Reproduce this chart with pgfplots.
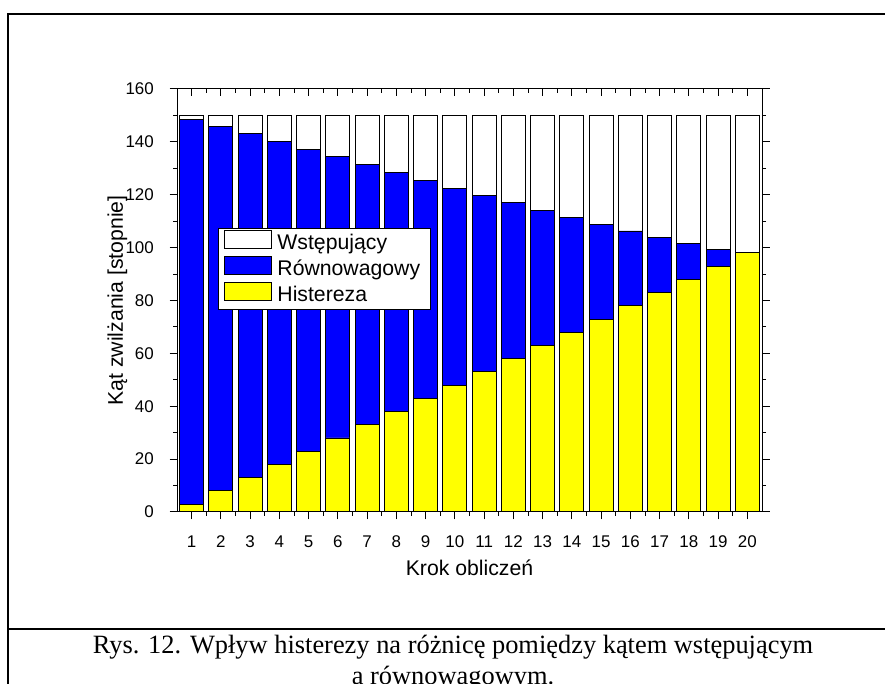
\documentclass[border=0pt]{standalone}
\usepackage{fontspec}
\setmainfont{Liberation Sans}
\newfontfamily\capfont{Liberation Serif}
\usepackage{pgfplots}
\pgfplotsset{compat=1.18}
\definecolor{barblue}{RGB}{0,0,255}
\definecolor{baryellow}{RGB}{255,255,0}
\begin{document}
\begin{tikzpicture}
\useasboundingbox (0,0) rectangle (885bp,684bp);
\draw[line width=1.7bp] (7.7bp,-5bp) -- (7.7bp,670bp) -- (895bp,670bp);
\draw[line width=1.7bp] (7.7bp,55bp) -- (895bp,55bp);
\node[font=\capfont\fontsize{26.5}{30}\selectfont, anchor=base, inner sep=0pt] at (453bp,30.7bp) {Rys. 12. Wpływ histerezy na różnicę pomiędzy kątem wstępującym};
\node[font=\capfont\fontsize{26.5}{30}\selectfont, anchor=base, inner sep=0pt] at (453bp,-0.5bp) {a równowagowym.};
\begin{axis}[
  at={(177bp,172bp)}, anchor=south west,
  scale only axis, width=585bp, height=423bp,
  xmin=0.5, xmax=20.5, ymin=0, ymax=160,
  xtick={1,...,20}, ytick={0,20,...,160},
  minor x tick num=1, minor y tick num=1,
  xtick pos=left, ytick pos=both,
  tick align=outside,
  major tick length=7.5bp, minor tick length=4bp,
  every tick/.style={black, line width=1bp},
  axis line style={line width=1bp},
  axis on top,
  /pgf/number format/assume math mode=true,
  tick label style={font=\fontsize{17}{20}\selectfont},
  xticklabel style={anchor=base, inner sep=0pt, yshift=-28bp},
  yticklabel style={anchor=east, inner sep=0pt, xshift=-15.5bp},
  xlabel={Krok obliczeń},
  ylabel={Kąt zwilżania [stopnie]},
  label style={font=\fontsize{21.3}{25}\selectfont},
  xlabel style={at={(axis description cs:0.5,-0.149)}, anchor=base, inner sep=0pt},
  ylabel style={at={(axis description cs:-0.102,0.5)}, anchor=center, rotate=0},
  ybar, bar shift=0pt, bar width=0.82,
  every axis plot/.append style={draw=black, line width=0.9bp},
  legend cell align=left,
  legend style={at={(axis description cs:0.070,0.671)}, anchor=north west,
    font=\fontsize{21.3}{25}\selectfont, draw=black, line width=1bp,
    inner xsep=0bp, inner ysep=1.2bp, column sep=0bp, row sep=0bp,
    nodes={inner xsep=0bp, inner ysep=3bp, text height=17bp, text depth=3bp}},
  legend image code/.code={\path[draw=none,fill=none] (-5.5bp,2bp) -- (53.5bp,2bp);\draw[#1,/tikz/.cd,line width=0.9bp] (0bp,-6bp) rectangle (47bp,12bp);},
]
\addplot[fill=white] coordinates {
(1,150) (2,150) (3,150) (4,150) (5,150) (6,150) (7,150) (8,150) (9,150) (10,150)
(11,150) (12,150) (13,150) (14,150) (15,150) (16,150) (17,150) (18,150) (19,150) (20,150)};
\addlegendentry{Wstępujący}
\addplot[fill=barblue] coordinates {
(1,148.6) (2,145.9) (3,143.1) (4,140.2) (5,137.2) (6,134.4) (7,131.5) (8,128.5) (9,125.5) (10,122.5)
(11,119.6) (12,117.0) (13,114.1) (14,111.3) (15,108.7) (16,106.3) (17,103.8) (18,101.5) (19,99.3) (20,97.2)};
\addlegendentry{Równowagowy\hspace*{10bp}}
\addplot[fill=baryellow] coordinates {
(1,3) (2,8) (3,13) (4,18) (5,23) (6,28) (7,33) (8,38) (9,43) (10,48)
(11,53) (12,58) (13,63) (14,68) (15,73) (16,78) (17,83) (18,88) (19,93) (20,98)};
\addlegendentry{Histereza}
\end{axis}
\begin{axis}[
  at={(177bp,172bp)}, anchor=south west,
  scale only axis, width=585bp, height=423bp,
  xmin=0.5, xmax=20.5, ymin=0, ymax=160,
  xtick={1,...,20}, minor x tick num=1,
  xtick pos=right, xticklabels={},
  tick align=inside,
  major tick length=7.5bp, minor tick length=4bp,
  every tick/.style={black, line width=1bp},
  axis line style={line width=1bp},
  ytick=\empty,
]
\end{axis}
\end{tikzpicture}
\end{document}
